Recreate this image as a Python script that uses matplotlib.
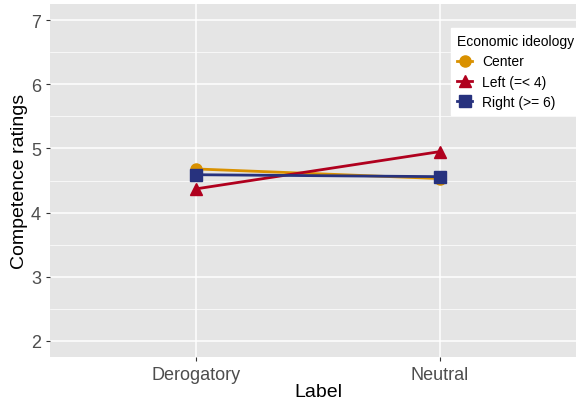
import numpy as np
import matplotlib
matplotlib.use("Agg")
import matplotlib.pyplot as plt
from matplotlib.ticker import MultipleLocator

plt.rcParams['font.family'] = ['Liberation Sans', 'DejaVu Sans']

# data
labels = ["Derogatory", "Neutral"]
center = [4.68, 4.53]
left = [4.37, 4.95]
right = [4.59, 4.56]
yticks = [2, 3, 4, 5, 6, 7]

fig = plt.figure(figsize=(5.76, 4.02), dpi=100)
ax = fig.add_axes([50 / 576, 1 - 358 / 402, 536 / 576, 353 / 402])
ax.set_facecolor("#e5e5e5")

x = np.arange(1, len(labels) + 1)
ax.plot(x, center, color="#d99100", lw=2, marker="o", ms=8, label="Center", zorder=3)
ax.plot(x, left, color="#b0001e", lw=2, marker="^", ms=9, label="Left (=< 4)", zorder=4)
ax.plot(x, right, color="#27327e", lw=2, marker="s", ms=8, label="Right (>= 6)", zorder=5)

ax.set_xlim(0.4, 2.6)
ax.set_ylim(1.75, 7.25)
ax.set_xticks(x)
ax.set_xticklabels(labels)
ax.set_yticks(yticks)
ax.yaxis.set_minor_locator(MultipleLocator(0.5))
ax.grid(True, which="major", color="white", lw=1.1)
ax.grid(True, which="minor", axis="y", color="white", lw=0.5)
ax.set_axisbelow(True)
for s in ax.spines.values():
    s.set_visible(False)
ax.tick_params(which="major", colors="#333333", labelcolor="#4d4d4d", labelsize=13, length=3)
ax.tick_params(which="minor", length=0)
ax.set_xlabel("Label", fontsize=14, labelpad=0)
ax.set_ylabel("Competence ratings", fontsize=14, labelpad=2)

leg = fig.legend(loc="upper left", bbox_to_anchor=(444 / 576, 1 - 22 / 402),
                 title="Economic ideology", fontsize=10, title_fontsize=10,
                 frameon=True, fancybox=False, edgecolor="white", facecolor="white",
                 framealpha=1, handlelength=1.1, handletextpad=0.7,
                 labelspacing=0.45, borderpad=0.45, markerscale=1.0)
leg._legend_box.align = "left"

fig.savefig("out.png", dpi=100)
